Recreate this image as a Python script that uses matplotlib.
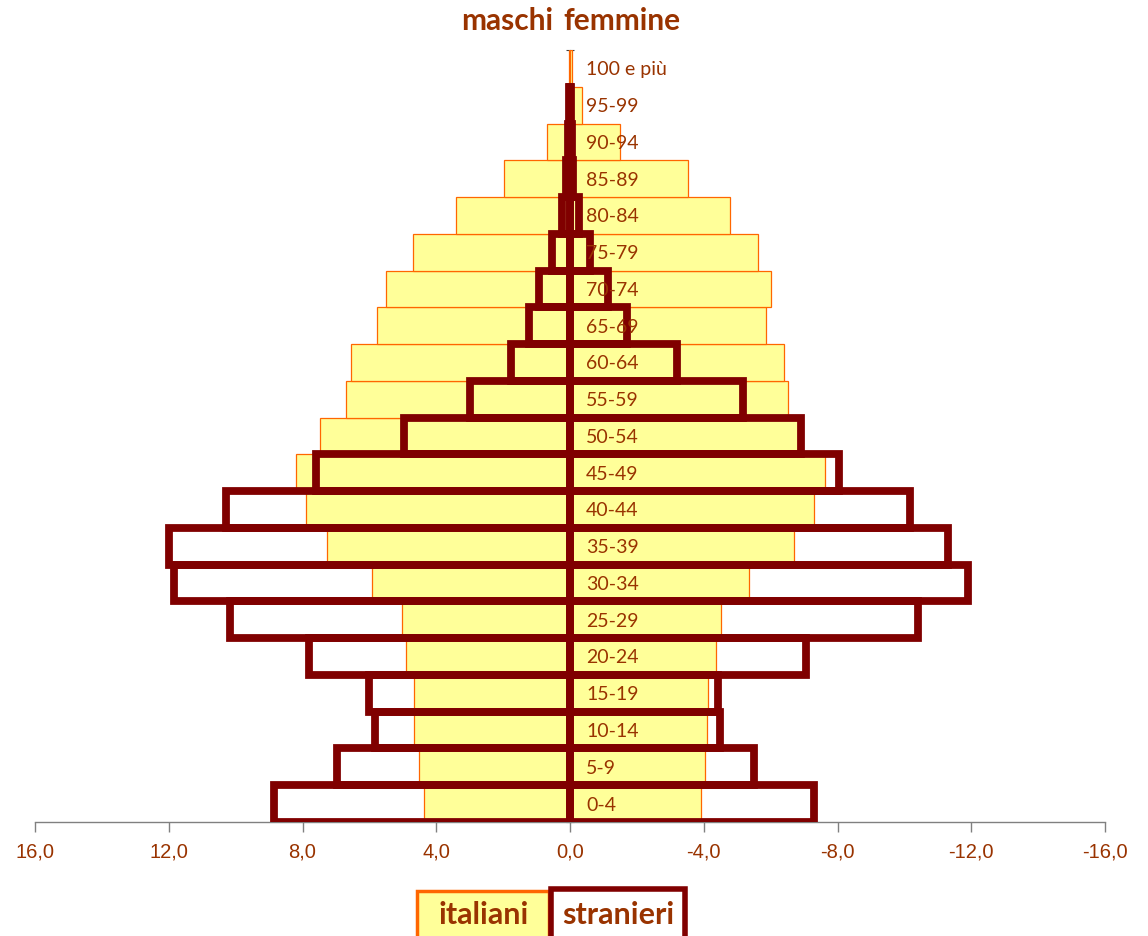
import numpy as np
import matplotlib.pyplot as plt
from matplotlib.patches import Rectangle

# Age classes, bottom to top
ages = ['0-4', '5-9', '10-14', '15-19', '20-24', '25-29', '30-34', '35-39',
        '40-44', '45-49', '50-54', '55-59', '60-64', '65-69', '70-74',
        '75-79', '80-84', '85-89', '90-94', '95-99', '100 e più']

# Percentages: males on the left (positive), females on the right
ita_m = [4.37, 4.53, 4.66, 4.66, 4.90, 5.02, 5.92, 7.27, 7.90, 8.19, 7.48,
         6.71, 6.54, 5.78, 5.50, 4.70, 3.41, 1.97, 0.69, 0.10, 0.02]
ita_f = [3.92, 4.04, 4.10, 4.13, 4.37, 4.52, 5.36, 6.70, 7.30, 7.62, 6.81,
         6.51, 6.41, 5.87, 6.01, 5.62, 4.78, 3.53, 1.50, 0.35, 0.05]
str_m = [8.84, 6.98, 5.82, 6.00, 7.80, 10.17, 11.83, 12.00, 10.29, 7.60, 4.96,
         2.98, 1.77, 1.23, 0.93, 0.55, 0.25, 0.12, 0.06, 0.04, 0.0]
str_f = [7.30, 5.50, 4.49, 4.43, 7.07, 10.41, 11.90, 11.29, 10.16, 8.05, 6.90,
         5.18, 3.21, 1.70, 1.15, 0.60, 0.26, 0.10, 0.05, 0.03, 0.0]

xticks = [16, 12, 8, 4, 0, -4, -8, -12, -16]
xticklabels = ['16,0', '12,0', '8,0', '4,0', '0,0', '-4,0', '-8,0', '-12,0', '-16,0']

yellow = '#FFFF99'
orange = '#FF6600'
darkred = '#800000'
brown = '#993300'

fig = plt.figure(figsize=(11.48, 9.36), dpi=100)
ax = fig.add_axes([35/1148, 1 - 822/936, 1070/1148, 772/936])

y = np.arange(len(ages))
ita_m = np.array(ita_m)
ita_f = np.array(ita_f)
str_m = np.array(str_m)
str_f = np.array(str_f)

# Italians: filled bars
ax.barh(y, ita_m, height=1.0, color=yellow, edgecolor=orange, linewidth=0.9, zorder=2)
ax.barh(y, -ita_f, height=1.0, color=yellow, edgecolor=orange, linewidth=0.9, zorder=2)

# Foreigners: thick outline only
m = str_m > 0
ax.barh(y[m], str_m[m], height=1.0, facecolor='none', edgecolor=darkred, linewidth=5.6, zorder=3)
m = str_f > 0
ax.barh(y[m], -str_f[m], height=1.0, facecolor='none', edgecolor=darkred, linewidth=5.6, zorder=3)

ax.set_xlim(16, -16)
ax.set_ylim(-0.5, len(ages) - 0.5)

# Age labels just right of the centre
for yi, lab in zip(y, ages):
    ax.annotate(lab, xy=(0, yi), xytext=(11.5, -1), textcoords='offset points',
                ha='left', va='center', fontsize=14, color=brown,
                family=['Lato', 'DejaVu Sans'], zorder=4)

for s in ['top', 'right']:
    ax.spines[s].set_visible(False)
ax.spines['left'].set_position(('data', 0))
ax.spines['left'].set_color('#404040')
ax.spines['left'].set_linewidth(0.8)
ax.spines['left'].set_zorder(1)
ax.spines['bottom'].set_color('#808080')
ax.spines['bottom'].set_linewidth(1.0)

ax.set_yticks(np.arange(-0.5, len(ages), 1.0))
ax.set_yticklabels([])
ax.tick_params(axis='y', direction='inout', length=6, color='#404040', width=0.8)

ax.set_xticks(xticks)
ax.set_xticklabels(xticklabels, fontsize=14.5, color=brown, family='Liberation Sans')
ax.tick_params(axis='x', direction='out', length=7, color='#808080', width=1.0, pad=8)

# Title
fig.text(553/1148, 1 - 21/936, 'maschi', ha='right', va='center', fontsize=21.5,
         fontweight='bold', color=brown, family='Lato')
fig.text(563/1148, 1 - 21/936, 'femmine', ha='left', va='center', fontsize=21.5,
         fontweight='bold', color=brown, family='Lato')

# Legend boxes at the bottom (cut by the figure edge)
fig.patches.append(Rectangle((417/1148, -10/936), 132/1148, 55/936, transform=fig.transFigure,
                             facecolor=yellow, edgecolor=orange, linewidth=2.5))
fig.patches.append(Rectangle((551/1148, -10/936), 134/1148, 57/936, transform=fig.transFigure,
                             facecolor='white', edgecolor=darkred, linewidth=4.0))
fig.text(484/1148, 1 - 915/936, 'italiani', ha='center', va='center', fontsize=22,
         fontweight='bold', color=brown, family='Lato')
fig.text(618/1148, 1 - 915/936, 'stranieri', ha='center', va='center', fontsize=22,
         fontweight='bold', color=brown, family='Lato')

fig.savefig('out.png', dpi=100)
